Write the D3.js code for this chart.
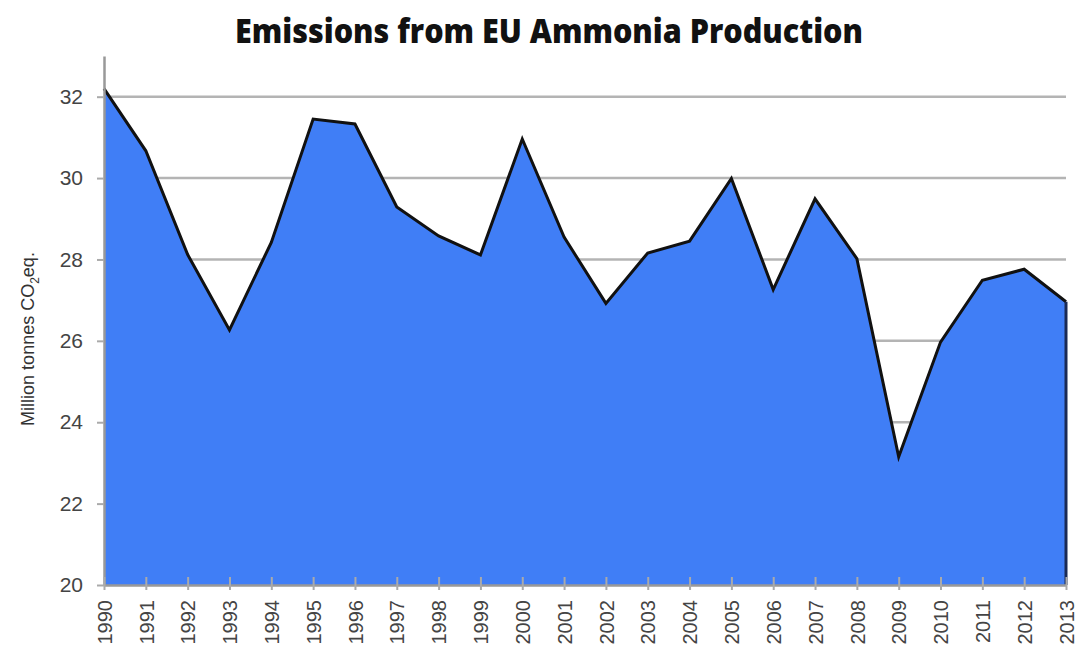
<!DOCTYPE html>
<html>
<head>
<meta charset="utf-8">
<script src="https://cdn.jsdelivr.net/npm/d3@7"></script>
<style>
    body { margin: 0; background: #fff; }
    svg { display: block; }
    .tick-label { font-family: "Liberation Sans", Arial, sans-serif; fill: #444; }
</style>
</head>
<body>
<div id="chart"></div>
<script>
var years = [1990, 1991, 1992, 1993, 1994, 1995, 1996, 1997, 1998, 1999, 2000, 2001,
             2002, 2003, 2004, 2005, 2006, 2007, 2008, 2009, 2010, 2011, 2012, 2013];
var emissions = [32.2, 30.67, 28.12, 26.27, 28.42, 31.45, 31.33, 29.29, 28.58, 28.11, 30.96, 28.55,
                 26.92, 28.16, 28.45, 29.99, 27.26, 29.49, 28.02, 23.15, 25.97, 27.49, 27.76, 26.96];
var yTicks = [20, 22, 24, 26, 28, 30, 32];
var gridTicks = [22, 24, 26, 28, 30, 32];

(function() {
    var width = 1077, height = 656;
    var margin = {top: 56, right: 10, bottom: 71, left: 104};

    var data = years.map(function(y, i) { return {year: y, value: emissions[i]}; });

    var svg = d3.select("#chart").append("svg")
        .attr("width", width)
        .attr("height", height);

    var x = d3.scaleLinear()
        .domain([years[0], years[years.length - 1]])
        .range([margin.left, 1066]);

    var y = d3.scaleLinear()
        .domain([20, 33])
        .range([585, margin.top]);

    // title
    var title = svg.append("text")
        .attr("x", 549)
        .attr("y", 43)
        .attr("text-anchor", "middle")
        .style("font-family", "'Open Sans', sans-serif")
        .style("font-weight", 800)
        .style("font-size", "33px")
        .style("fill", "#111")
        .text("Emissions from EU Ammonia Production");
    title.attr("textLength", 628).attr("lengthAdjust", "spacingAndGlyphs");

    // gridlines
    svg.append("g")
        .selectAll("line")
        .data(gridTicks)
        .enter()
        .append("line")
            .attr("x1", margin.left)
            .attr("x2", 1066)
            .attr("y1", function(d) { return y(d); })
            .attr("y2", function(d) { return y(d); })
            .style("stroke", "#b4b4b4")
            .style("stroke-width", 2.5);

    // area + outline
    var area = d3.area()
        .x(function(d) { return x(d.year); })
        .y0(y(20))
        .y1(function(d) { return y(d.value); });

    svg.append("path")
        .datum(data)
        .attr("d", area)
        .style("fill", "#407ef6");

    var line = d3.line()
        .x(function(d) { return x(d.year); })
        .y(function(d) { return y(d.value); });

    svg.append("path")
        .datum(data)
        .attr("d", line)
        .style("fill", "none")
        .style("stroke", "#111")
        .style("stroke-width", 3)
        .style("stroke-linejoin", "miter");

    var last = data[data.length - 1];
    svg.append("line")
        .attr("x1", x(last.year))
        .attr("x2", x(last.year))
        .attr("y1", y(last.value))
        .attr("y2", y(20))
        .style("stroke", "#1a2a55")
        .style("stroke-width", 3);

    // y axis
    var yAxis = svg.append("g")
        .attr("transform", "translate(" + margin.left + ",0)")
        .call(d3.axisLeft(y).tickValues(yTicks).tickSize(7).tickSizeOuter(0).tickPadding(14));
    yAxis.select(".domain").style("stroke", "#999").style("stroke-width", 2.5);
    yAxis.selectAll(".tick line").style("stroke", "#aaa").style("stroke-width", 2);
    yAxis.selectAll(".tick text")
        .classed("tick-label", true)
        .style("font-size", "21px")
        .attr("fill", null);

    // x axis
    var xAxis = svg.append("g")
        .attr("transform", "translate(0," + y(20) + ")")
        .call(d3.axisBottom(x).tickValues(years).tickSize(0).tickFormat(d3.format("d")));
    xAxis.select(".domain").style("stroke", "#999").style("stroke-width", 2.5);
    xAxis.selectAll(".tick line")
        .attr("y1", -8)
        .attr("y2", 5)
        .style("stroke", "#aaa")
        .style("stroke-width", 2);
    xAxis.selectAll(".tick text")
        .classed("tick-label", true)
        .attr("fill", null)
        .style("font-size", "20px")
        .attr("transform", "rotate(-90)")
        .attr("text-anchor", "end")
        .attr("x", -15)
        .attr("y", 0)
        .attr("dy", "0.36em");

    // y axis label
    var yLabel = svg.append("text")
        .attr("transform", "translate(34,339) rotate(-90)")
        .attr("text-anchor", "middle")
        .style("font-family", "'Liberation Sans Narrow', 'Liberation Sans', Arial, sans-serif")
        .style("font-size", "18px")
        .style("fill", "#333");
    yLabel.append("tspan").text("Million tonnes CO");
    yLabel.append("tspan").attr("dy", 5).style("font-size", "12px").text("2");
    yLabel.append("tspan").attr("dy", -5).text("eq.");
})();
</script>
</body>
</html>
